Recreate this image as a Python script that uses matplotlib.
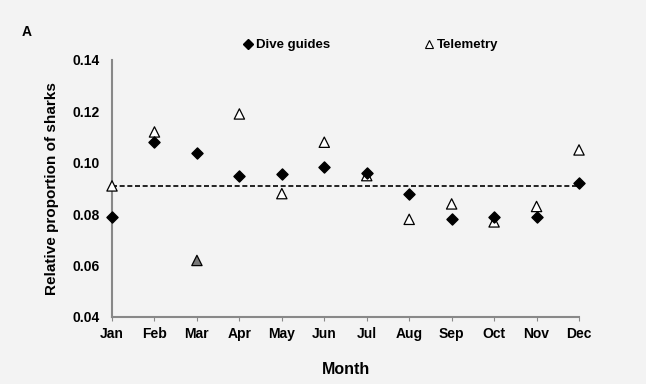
import matplotlib
matplotlib.use('Agg')
import matplotlib.pyplot as plt
from matplotlib.lines import Line2D

plt.rcParams['font.family'] = ['Liberation Sans', 'DejaVu Sans']
plt.rcParams['font.weight'] = 'bold'

months = ['Jan', 'Feb', 'Mar', 'Apr', 'May', 'Jun', 'Jul', 'Aug', 'Sep', 'Oct', 'Nov', 'Dec']
dive_guides = [0.079, 0.108, 0.104, 0.095, 0.0955, 0.0985, 0.096, 0.088, 0.078, 0.079, 0.079, 0.092]
telemetry = [0.091, 0.112, 0.062, 0.119, 0.088, 0.108, 0.095, 0.078, 0.084, 0.077, 0.083, 0.105]
tele_fill = ['white', 'white', '#777777', 'white', 'white', 'white', 'white', 'white', 'white', 'white', 'white', 'white']
expected = 0.091  # dashed reference line

bg = '#f3f3f3'
fig = plt.figure(figsize=(6.46, 3.84), dpi=100, facecolor=bg)
ax = fig.add_axes([0.1734, 0.1745, 0.7229, 0.6693], facecolor=bg)

x = list(range(len(months)))
ax.plot([x[0], x[-1]], [expected, expected], ls=(0, (3, 1.6)), color='black', lw=1.2, zorder=1)
ax.scatter(x, telemetry, marker='^', s=55, facecolors=tele_fill, edgecolors='black',
           linewidths=0.9, zorder=3, clip_on=False)
ax.scatter(x, dive_guides, marker='D', s=32, color='black', zorder=4, clip_on=False)

ax.set_xlim(0, 11)
ax.set_ylim(0.04, 0.14)
ax.set_yticks([0.04, 0.06, 0.08, 0.10, 0.12, 0.14])
ax.set_yticklabels(['0.04', '0.06', '0.08', '0.10', '0.12', '0.14'])
ax.set_xticks(x)
ax.set_xticklabels(months)
ax.tick_params(axis='y', length=0, labelsize=10, pad=9)
ax.tick_params(axis='x', length=3, color='#888888', labelsize=10, pad=4.5)
for s in ['top', 'right']:
    ax.spines[s].set_visible(False)
for s in ['left', 'bottom']:
    ax.spines[s].set_color('#888888')
    ax.spines[s].set_linewidth(1.5)

ax.set_ylabel('Relative proportion of sharks', fontsize=11, fontweight='bold')
ax.yaxis.set_label_coords(-0.113, 0.5)
ax.set_xlabel('Month', fontsize=11.5, fontweight='bold')
ax.xaxis.set_label_coords(0.5, -0.176)

handles = [Line2D([], [], marker='D', color='black', ls='none', markersize=5),
           Line2D([], [], marker='^', markerfacecolor='white', markeredgecolor='black',
                  ls='none', markersize=6, markeredgewidth=0.8)]
fig.legend(handles, ['Dive guides', 'Telemetry'], loc='center', bbox_to_anchor=(0.573, 0.882),
           ncol=2, frameon=False, handletextpad=0.1, columnspacing=7.0, fontsize=9.5,
           handlelength=1.0)

fig.text(0.034, 0.905, 'A', fontsize=10, fontweight='bold')

fig.savefig('out.png', dpi=100, facecolor=bg)
